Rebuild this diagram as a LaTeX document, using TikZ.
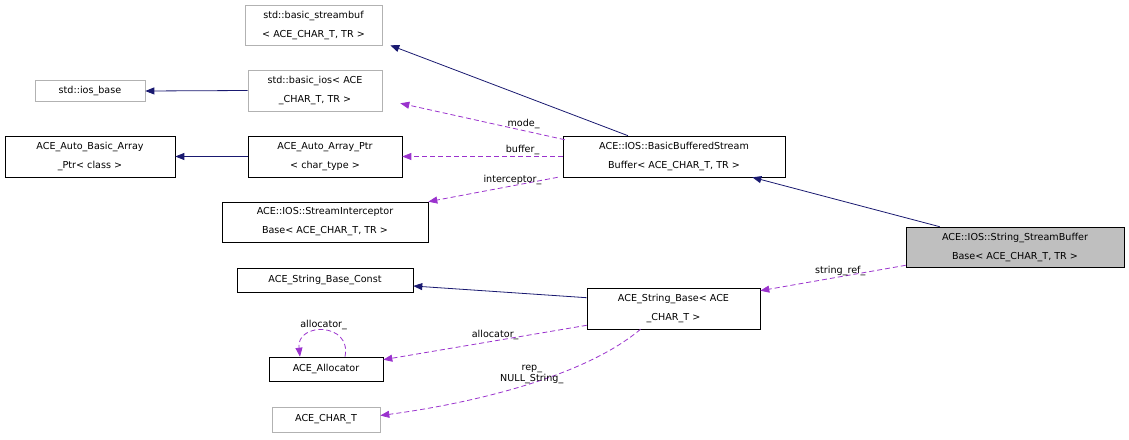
\documentclass[tikz,border=0pt]{standalone}
\usepackage{fontspec}
\setmainfont{DejaVu Sans}
\usetikzlibrary{arrows.meta,calc}
\begin{document}
\begin{tikzpicture}[x=1pt,y=-1pt,
  box/.style={draw=black,line width=0.6pt,fill=white,inner sep=0pt,align=center,font=\fontsize{9.6}{19}\selectfont},
  gbox/.style={box,draw=gray!60},
  inh/.style={draw={rgb,255:red,25;green,25;blue,112},line width=0.8pt,-{Triangle[length=9pt,width=7pt]}},
  use/.style={draw={rgb,255:red,154;green,50;blue,205},line width=0.8pt,dash pattern=on 5pt off 3pt,-{Triangle[length=9pt,width=7pt]}},
  lbl/.style={font=\fontsize{9.6}{11}\selectfont,inner sep=1pt,align=center}]
\useasboundingbox (0,0) rectangle (1129,439);
\node[gbox,minimum width=137,minimum height=40] (sb) at (313.5,25) {std::basic\_streambuf\\< ACE\_CHAR\_T, TR >};
\node[gbox,minimum width=110,minimum height=21] (iob) at (90,91) {std::ios\_base};
\node[gbox,minimum width=134,minimum height=41] (bios) at (315,90.5) {std::basic\_ios< ACE\\\_CHAR\_T, TR >};
\node[box,minimum width=170,minimum height=41] (aba) at (90,156.5) {ACE\_Auto\_Basic\_Array\\\_Ptr< class >};
\node[box,minimum width=154,minimum height=41] (aap) at (325,156.5) {ACE\_Auto\_Array\_Ptr\\< char\_type >};
\node[box,minimum width=222,minimum height=41] (bbsb) at (674,156.5) {ACE::IOS::BasicBufferedStream\\Buffer< ACE\_CHAR\_T, TR >};
\node[box,minimum width=206,minimum height=40] (sib) at (325,222) {ACE::IOS::StreamInterceptor\\Base< ACE\_CHAR\_T, TR >};
\node[box,fill={rgb,255:red,191;green,191;blue,191},minimum width=218,minimum height=40] (ssb) at (1015,247) {ACE::IOS::String\_StreamBuffer\\Base< ACE\_CHAR\_T, TR >};
\node[box,minimum width=176,minimum height=24] (sbc) at (325,280) {ACE\_String\_Base\_Const};
\node[box,minimum width=173,minimum height=41] (sbase) at (673.5,308.5) {ACE\_String\_Base< ACE\\\_CHAR\_T >};
\node[box,minimum width=114,minimum height=24] (alloc) at (326,369) {ACE\_Allocator};
\node[gbox,minimum width=108,minimum height=25] (ct) at (326,419.5) {ACE\_CHAR\_T};

\draw[inh] ($(bbsb.north)+(-46,0)$) -- ($(sb.south east)+(8,0)$);
\draw[inh] (bios.west) -- (iob.east);
\draw[inh] (aap.west) -- (aba.east);
\draw[use] ($(bbsb.north west)+(2,4)$) -- node[lbl,above,pos=0.25]{mode\_} ($(bios.south east)+(18,-8)$);
\draw[use] (bbsb.west) -- node[lbl,above,pos=0.25]{buffer\_} (aap.east);
\draw[use] ($(bbsb.south west)+(-5,0)$) -- node[lbl,above,pos=0.35]{interceptor\_} (sib.north east);
\draw[inh] ($(ssb.north west)+(34,0)$) -- ($(bbsb.south east)+(-33,0)$);
\draw[use] ($(ssb.south west)+(0,-2)$) -- node[lbl,above,pos=0.45]{string\_ref\_} ($(sbase.north east)+(0,3)$);
\draw[inh] ($(sbase.north west)+(0,10)$) -- ($(sbc.east)+(0,6)$);
\draw[use] ($(sbase.south west)+(0,-4)$) -- node[lbl,above,pos=0.45]{allocator\_} ($(alloc.north east)+(0,3)$);
\draw[use] ($(alloc.north)+(19,0)$) .. controls (352,322) and (296,322) .. node[lbl,above,pos=0.5]{allocator\_} ($(alloc.north)+(-26,0)$);
\draw[use] ($(sbase.south)+(-33,0)$) .. controls (580,380) and (460,405) .. node[lbl,pos=0.45,above=-2pt]{rep\_\\NULL\_String\_} ($(ct.east)+(0,-4)$);
\end{tikzpicture}
\end{document}
